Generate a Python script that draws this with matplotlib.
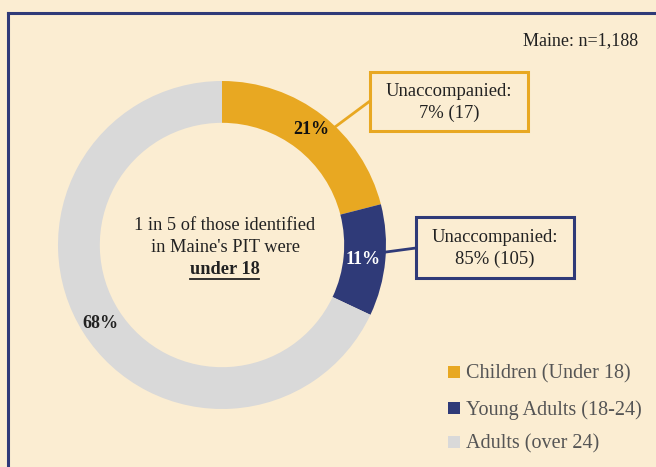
import matplotlib
matplotlib.use("Agg")
import matplotlib.pyplot as plt
from matplotlib.patches import Rectangle
from matplotlib.lines import Line2D

categories = ["Children (Under 18)", "Young Adults (18-24)", "Adults (over 24)"]
shares = [21, 11, 68]
pct_labels = ["21%", "11%", "68%"]
colors = ["#E8A822", "#2F3A78", "#D9D9D9"]
callouts = [["Unaccompanied:", "7% (17)"], ["Unaccompanied:", "85% (105)"]]
center_text = ["1 in 5 of those identified", "in Maine's PIT were", "under 18"]
note = "Maine: n=1,188"

BG = "#FBEDD2"
W, H = 656, 467
fig = plt.figure(figsize=(W / 100, H / 100), dpi=100)
fig.patch.set_facecolor(BG)

def fx(px):
    return px / W

def fy(py):
    return 1 - py / H

serif = ["Liberation Serif", "DejaVu Serif"]

# frame lines (left and top)
fig.add_artist(Line2D([fx(8), fx(8)], [fy(13), 0], color="#2F3A78", lw=2.2, transform=fig.transFigure))
fig.add_artist(Line2D([fx(8), 1], [fy(13), fy(13)], color="#2F3A78", lw=2.2, transform=fig.transFigure))

# donut
cx, cy, R = 222, 245, 164
ax = fig.add_axes([fx(cx - R), fy(cy + R), 2 * R / W, 2 * R / H])
ax.set_facecolor(BG)
wedges, _ = ax.pie(shares, colors=colors, startangle=90, counterclock=False,
                   radius=1, wedgeprops=dict(width=0.255, edgecolor="none"))
ax.set_xlim(-1, 1)
ax.set_ylim(-1, 1)
ax.set_aspect("equal")
ax.axis("off")

# percentage labels
label_pos = [(311, 129), (363, 259), (100, 323)]
label_cols = ["#111111", "white", "#222222"]
for (px, py), t, c in zip(label_pos, pct_labels, label_cols):
    fig.text(fx(px), fy(py), t, ha="center", va="center", fontsize=13,
             fontweight="bold", color=c, family=serif)

# center text
center_y = [225, 247, 269]
for yy, line, bold in zip(center_y, center_text, [False, False, True]):
    fig.text(fx(225), fy(yy), line, ha="center", va="center", fontsize=13.2,
             fontweight="bold" if bold else "normal", color="#222222", family=serif)
fig.add_artist(Line2D([fx(190), fx(259)], [fy(279), fy(279)], color="#222222", lw=1.3,
                      transform=fig.transFigure))

# callout boxes
boxes = [(370, 72, 158, 59, colors[0], (370, 101), (335, 127)),
         (416, 217, 158, 61, colors[1], (416, 248), (386, 252))]
for (bx, by, bw, bh, col, p1, p2), lines in zip(boxes, callouts):
    fig.add_artist(Rectangle((fx(bx), fy(by + bh)), bw / W, bh / H, transform=fig.transFigure,
                             facecolor=BG, edgecolor=col, lw=2.2))
    fig.add_artist(Line2D([fx(p1[0]), fx(p2[0])], [fy(p1[1]), fy(p2[1])], color=col, lw=2,
                          transform=fig.transFigure))
    mid = by + bh / 2 + 1
    for k, line in enumerate(lines):
        fig.text(fx(bx + bw / 2), fy(mid - 11 + 22 * k), line, ha="center", va="center",
                 fontsize=13.4, color="#222222", family=serif)

# note
fig.text(fx(638), fy(41), note, ha="right", va="center", fontsize=13, color="#222222", family=serif)

# legend
leg_y = [372, 408, 442]
for yy, c, lab in zip(leg_y, colors, categories):
    fig.add_artist(Rectangle((fx(448), fy(yy + 6)), 12 / W, 12 / H, transform=fig.transFigure,
                             facecolor=c, edgecolor="none"))
    fig.text(fx(466), fy(yy + 2), lab, ha="left", va="center", fontsize=14.5,
             color="#555555", family=serif)

fig.savefig("out.png", dpi=100, facecolor=BG)
